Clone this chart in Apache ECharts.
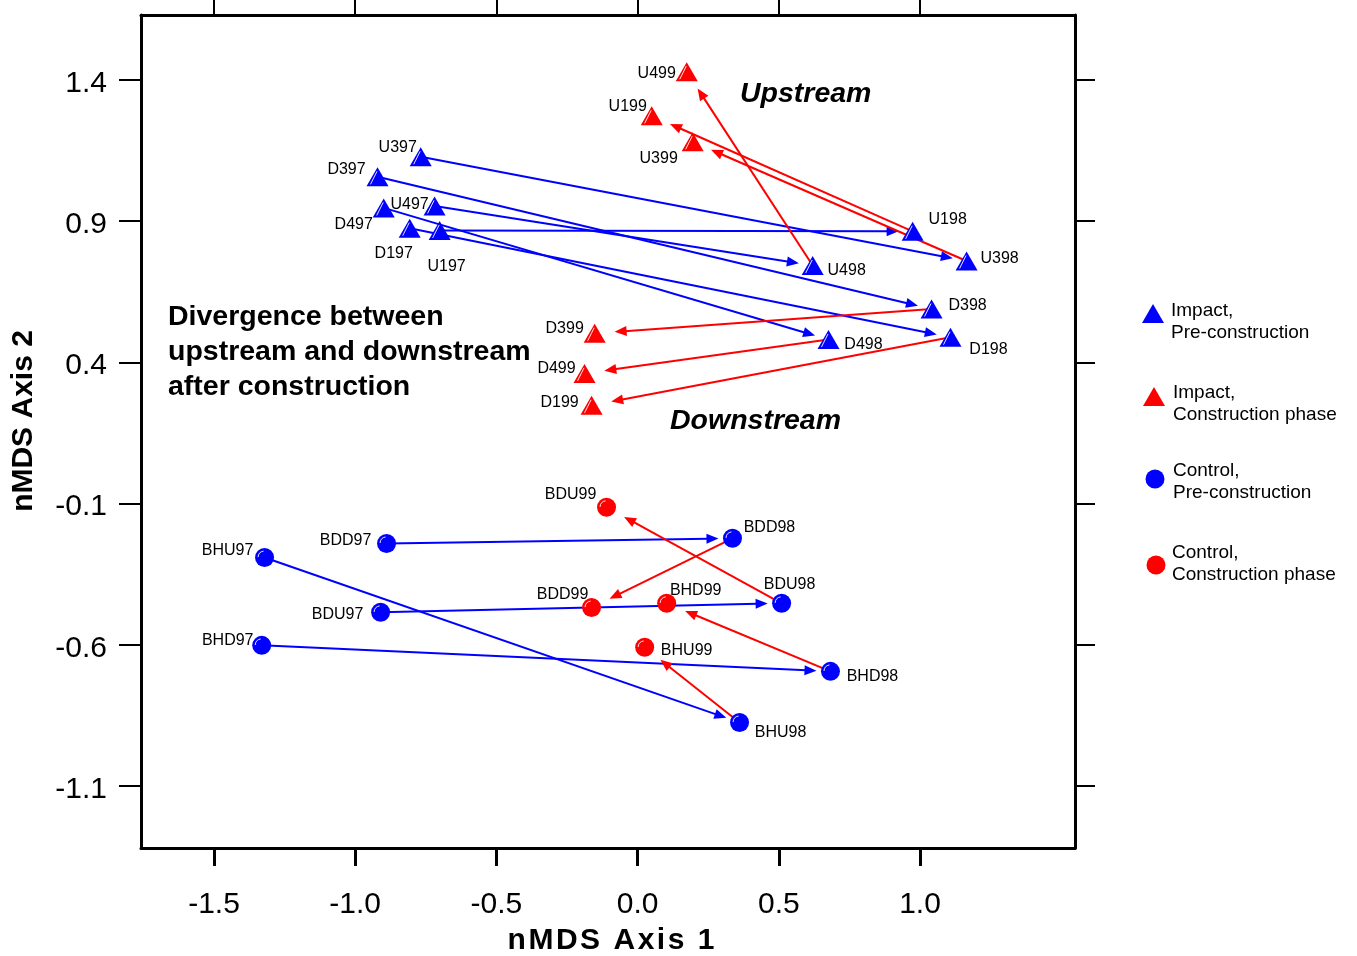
<!DOCTYPE html>
<html>
<head>
<meta charset="utf-8">
<script src="https://cdn.jsdelivr.net/npm/echarts@6/dist/echarts.min.js"></script>
<style>
html,body{margin:0;padding:0;background:#fff;}
#chart{width:1357px;height:956px;}
</style>
</head>
<body>
<div id="chart"></div>
<script>
// ---- data ----
const impactPreNames = ['U397','D397','U497','D497','D197','U197','U198','U398','U498','D398','D498','D198'];
const impactPreX = [-0.768,-0.921,-0.719,-0.899,-0.807,-0.701,0.974,1.165,0.620,1.041,0.676,1.108];
const impactPreY = [1.128,1.057,0.954,0.947,0.875,0.867,0.864,0.759,0.743,0.589,0.481,0.489];

const impactConNames = ['U499','U199','U399','D399','D499','D199'];
const impactConX = [0.174,0.050,0.195,-0.152,-0.188,-0.163];
const impactConY = [1.429,1.273,1.181,0.503,0.361,0.248];

const controlPreNames = ['BDD97','BDD98','BHU97','BHU98','BDU97','BDU98','BHD97','BHD98'];
const controlPreX = [-0.889,0.336,-1.321,0.361,-0.910,0.510,-1.331,0.683];
const controlPreY = [-0.241,-0.223,-0.291,-0.875,-0.485,-0.453,-0.602,-0.694];

const controlConNames = ['BDU99','BDD99','BHD99','BHU99'];
const controlConX = [-0.110,-0.163,0.103,0.025];
const controlConY = [-0.113,-0.468,-0.453,-0.609];

// arrows: pre-construction shifts (97 -> 98) and construction shifts (98 -> 99)
const preArrows = [['U397','U398'],['D397','D398'],['U497','U498'],['D497','D498'],['D197','D198'],['U197','U198'],
                   ['BDD97','BDD98'],['BHU97','BHU98'],['BDU97','BDU98'],['BHD97','BHD98']];
const conArrows = [['U198','U199'],['U398','U399'],['U498','U499'],['D398','D399'],['D498','D499'],['D198','D199'],
                   ['BDD98','BDD99'],['BDU98','BDU99'],['BHD98','BHD99'],['BHU98','BHU99']];

const xTicks = [-1.5,-1.0,-0.5,0.0,0.5,1.0];
const yTicks = [-1.1,-0.6,-0.1,0.4,0.9,1.4];

const seriesNames = ['Impact,\nPre-construction','Impact,\nConstruction phase','Control,\nPre-construction','Control,\nConstruction phase'];

// ---- layout (label offsets in px from marker centre) ----
const labelOffset = {
  U397:[-23,-11], D397:[-31,-9], U497:[-25,-3], D497:[-30,15], D197:[-16,23], U197:[7,34],
  U198:[35,-14], U398:[33,-4], U498:[34,3], D398:[36,-5], D498:[35,3], D198:[38,10],
  U499:[-30,0], U199:[-24,-11], U399:[-34,15], D399:[-30,-7], D499:[-28,-7], D199:[-32,-5],
  BDD98:[37,-13], BDD97:[-41,-5], BHU97:[-37,-9], BDU97:[-43,0], BDU98:[8,-21], BHD97:[-34,-7],
  BHD98:[42,3], BHU98:[41,8],
  BDU99:[-36,-15], BDD99:[-29,-15], BHD99:[29,-15], BHU99:[42,1]
};
const labelShiftY = 2;

const BLUE = '#0000ff', RED = '#ff0000';
const FONT = '"Liberation Sans", Arial, Helvetica, sans-serif';

const lookup = {};
function reg(names, xs, ys){ names.forEach((n,i)=>{ lookup[n]=[xs[i],ys[i]]; }); }
reg(impactPreNames, impactPreX, impactPreY);
reg(impactConNames, impactConX, impactConY);
reg(controlPreNames, controlPreX, controlPreY);
reg(controlConNames, controlConX, controlConY);

function pts(names, xs, ys){
  return names.map((n,i)=>{
    const o = labelOffset[n] || [0,0];
    return {name:n, value:[xs[i],ys[i]], label:{offset:[o[0], o[1]+labelShiftY]}};
  });
}

const arrowData = [];
preArrows.forEach(p=>{ arrowData.push([...lookup[p[0]], ...lookup[p[1]], 0]); });
conArrows.forEach(p=>{ arrowData.push([...lookup[p[0]], ...lookup[p[1]], 1]); });

// highlight glints on markers (0 = triangle, 1 = circle)
const glintData = [];
impactPreNames.concat(impactConNames).forEach(n=>glintData.push([...lookup[n], 0]));
controlPreNames.concat(controlConNames).forEach(n=>glintData.push([...lookup[n], 1]));

function renderArrow(params, api){
  const a = api.coord([api.value(0), api.value(1)]);
  const b = api.coord([api.value(2), api.value(3)]);
  const kind = api.value(4);
  const color = kind === 0 ? BLUE : RED;
  const gap = kind === 0 ? 14 : 20;
  const dx = b[0]-a[0], dy = b[1]-a[1];
  const len = Math.sqrt(dx*dx+dy*dy);
  const ux = dx/len, uy = dy/len;
  const tip = [b[0]-ux*gap, b[1]-uy*gap];
  const hl = 12, hw = 5;
  const base = [tip[0]-ux*hl, tip[1]-uy*hl];
  const px = -uy, py = ux;
  return {
    type:'group',
    children:[
      {type:'line', shape:{x1:a[0], y1:a[1], x2:base[0]+ux*2, y2:base[1]+uy*2}, style:{stroke:color, lineWidth:2}},
      {type:'polygon', shape:{points:[tip,[base[0]+px*hw, base[1]+py*hw],[base[0]-px*hw, base[1]-py*hw]]}, style:{fill:color}}
    ]
  };
}

function renderGlint(params, api){
  const c = api.coord([api.value(0), api.value(1)]);
  if (api.value(2) === 0) {
    return {type:'line', shape:{x1:c[0]-0.5, y1:c[1]-5.5, x2:c[0]-7, y2:c[1]+7.5},
            style:{stroke:'#fff', lineWidth:1, opacity:0.9}};
  }
  return {type:'arc', shape:{cx:c[0], cy:c[1], r:6.5, startAngle:Math.PI*1.02, endAngle:Math.PI*1.45},
          style:{stroke:'#fff', lineWidth:1, fill:null, opacity:0.9}};
}

const chart = echarts.init(document.getElementById('chart'), null, {renderer:'canvas'});

const labelCfg = {show:true, position:'inside', formatter:'{b}', color:'#000', fontSize:16, fontFamily:FONT};
const triSize = [22,19], cirSize = 19;

function axisCommon(min, max){
  return {
    type:'value', min:min, max:max, splitLine:{show:false},
    axisLine:{show:true, onZero:false, lineStyle:{color:'#000', width:3}},
  };
}

const option = {
  backgroundColor:'#fff',
  animation:false,
  grid:{left:141, top:15, right:282, bottom:108, containLabel:false},
  xAxis:[
    Object.assign(axisCommon(-1.7585,1.5489), {position:'bottom',
      axisTick:{show:true, inside:false, length:18, customValues:xTicks, lineStyle:{color:'#000', width:3}},
      axisLabel:{show:true, customValues:xTicks, formatter:v=>Number(v).toFixed(1), fontSize:30, margin:42, color:'#000', fontFamily:FONT}}),
    Object.assign(axisCommon(-1.7585,1.5489), {position:'top',
      axisTick:{show:true, inside:false, length:15, customValues:xTicks, lineStyle:{color:'#000', width:2}},
      axisLabel:{show:false}})
  ],
  yAxis:[
    Object.assign(axisCommon(-1.3195,1.630), {position:'left',
      axisTick:{show:true, inside:false, length:22, customValues:yTicks, lineStyle:{color:'#000', width:2}},
      axisLabel:{show:true, customValues:yTicks, formatter:v=>'{t|'+Number(v).toFixed(1)+'}', margin:34,
        rich:{t:{fontSize:30, color:'#000', fontFamily:FONT, padding:[7,0,0,0]}}}}),
    Object.assign(axisCommon(-1.3195,1.630), {position:'right',
      axisTick:{show:true, inside:false, length:20, customValues:yTicks, lineStyle:{color:'#000', width:2}},
      axisLabel:{show:false}})
  ],
  series:[
    {type:'custom', name:'arrows', renderItem:renderArrow, data:arrowData, z:1, silent:true,
     encode:{x:[0,2], y:[1,3]}, clip:false},
    {type:'scatter', name:seriesNames[0], symbol:'triangle', symbolSize:triSize, itemStyle:{color:BLUE, opacity:1},
     data:pts(impactPreNames, impactPreX, impactPreY), label:labelCfg, z:3},
    {type:'scatter', name:seriesNames[1], symbol:'triangle', symbolSize:triSize, itemStyle:{color:RED, opacity:1},
     data:pts(impactConNames, impactConX, impactConY), label:labelCfg, z:3},
    {type:'scatter', name:seriesNames[2], symbol:'circle', symbolSize:cirSize, itemStyle:{color:BLUE, opacity:1},
     data:pts(controlPreNames, controlPreX, controlPreY), label:labelCfg, z:3},
    {type:'scatter', name:seriesNames[3], symbol:'circle', symbolSize:cirSize, itemStyle:{color:RED, opacity:1},
     data:pts(controlConNames, controlConX, controlConY), label:labelCfg, z:3},
    {type:'custom', name:'glints', renderItem:renderGlint, data:glintData, z:4, silent:true,
     encode:{x:0, y:1}, clip:false}
  ],
  graphic:[
    {type:'text', left:740, top:80, style:{text:'Upstream', font:'italic bold 28.5px '+FONT, fill:'#000'}},
    {type:'text', left:670, top:407, style:{text:'Downstream', font:'italic bold 28.5px '+FONT, fill:'#000'}},
    {type:'text', left:168, top:300, style:{text:'Divergence between\nupstream and downstream\nafter construction', font:'bold 28.5px '+FONT, lineHeight:35, fill:'#000'}},
    {type:'text', x:611, y:941, style:{text:'n\u200aM\u200aD\u200aS\u200a \u200aA\u200ax\u200ai\u200as\u200a \u200a1', font:'bold 30px '+FONT, fill:'#000', align:'center', verticalAlign:'middle'}},
    {type:'text', x:24, y:421, rotation:Math.PI/2, style:{text:'nMDS Axis 2', font:'bold 30px '+FONT, fill:'#000', align:'center', verticalAlign:'middle'}},
    // legend
    {type:'polygon', shape:{points:[[1153,304],[1142,323],[1164,323]]}, style:{fill:BLUE}},
    {type:'text', left:1171, top:300, style:{text:seriesNames[0], font:'19px '+FONT, lineHeight:22, fill:'#000'}},
    {type:'polygon', shape:{points:[[1154,387],[1143,406],[1165,406]]}, style:{fill:RED}},
    {type:'text', left:1173, top:382, style:{text:seriesNames[1], font:'19px '+FONT, lineHeight:22, fill:'#000'}},
    {type:'circle', shape:{cx:1155, cy:479, r:9.5}, style:{fill:BLUE}},
    {type:'text', left:1173, top:460, style:{text:seriesNames[2], font:'19px '+FONT, lineHeight:22, fill:'#000'}},
    {type:'circle', shape:{cx:1156, cy:565, r:9.5}, style:{fill:RED}},
    {type:'text', left:1172, top:542, style:{text:seriesNames[3], font:'19px '+FONT, lineHeight:22, fill:'#000'}}
  ]
};
chart.setOption(option);
</script>
</body>
</html>
